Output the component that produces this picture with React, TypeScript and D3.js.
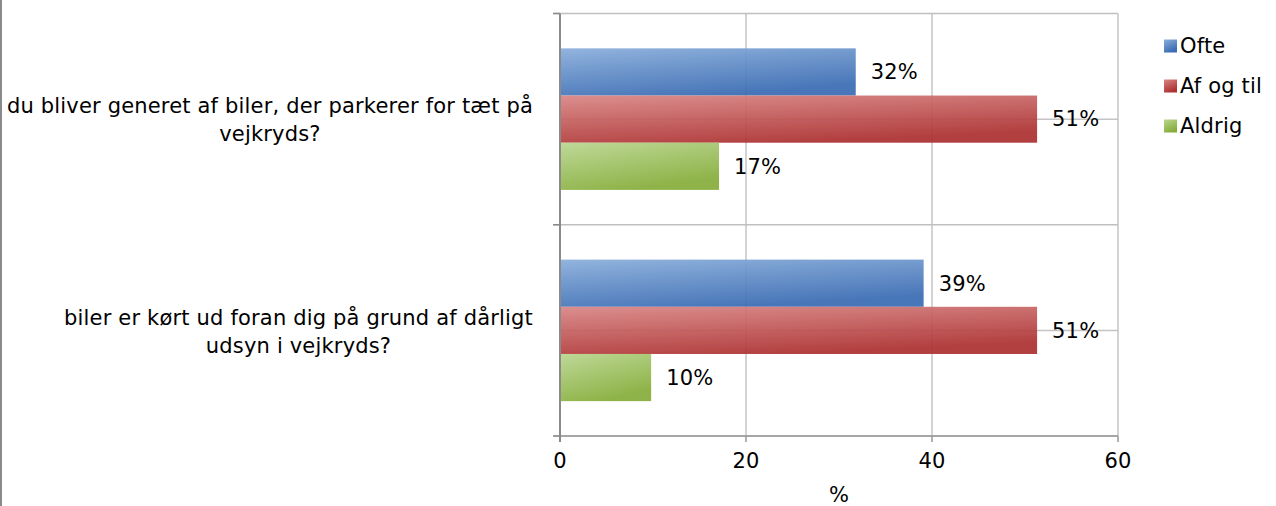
import { scaleBand, scaleLinear } from "d3";

const categories = [
  ["du bliver generet af biler, der parkerer for tæt på", "vejkryds?"],
  ["biler er kørt ud foran dig på grund af dårligt", "udsyn i vejkryds?"],
];
const seriesNames = ["Ofte", "Af og til", "Aldrig"];
const ofte = [31.8, 39.1];
const afOgTil = [51.3, 51.3];
const aldrig = [17.1, 9.8];
const xTicks = [0, 20, 40, 60];

const seriesValues = [ofte, afOgTil, aldrig];
const gradients = [
  ["#8aaedb", "#3a6cb3"],
  ["#d98686", "#ad3131"],
  ["#bad690", "#86ad3a"],
];

const FONT = "'DejaVu Sans', Verdana, sans-serif";
const FS = 21;
const LS = 0.18;
const W = 1276;
const H = 506;
const margin = { top: 13.5, left: 560, right: 158, bottom: 70 };

function textWidth(s: string) {
  const c = document.createElement("canvas").getContext("2d");
  if (!c) return s.length * 11;
  c.font = `${FS}px ${FONT}`;
  return c.measureText(s).width + s.length * LS;
}

export default function App() {
  const innerW = W - margin.left - margin.right;
  const innerH = H - margin.top - margin.bottom;
  const x = scaleLinear().domain([0, 60]).range([0, innerW]);
  const y = scaleBand<number>()
    .domain(categories.map((_, i) => i))
    .range([0, innerH])
    .paddingInner(0.33)
    .paddingOuter(0.165);
  const ySub = scaleBand<number>()
    .domain(seriesNames.map((_, i) => i))
    .range([0, y.bandwidth()]);
  const step = y.step();
  const labelRight = 533;

  return (
    <svg
      width={W}
      height={H}
      style={{ position: "absolute", left: 0, top: 0, background: "#fff" }}
      fontFamily={FONT}
      fontSize={FS}
      letterSpacing={LS}
    >
      <defs>
        {gradients.map(([a, b], i) => (
          <linearGradient key={i} id={`g${i}`} x1="0" y1="0" x2="0.45" y2="1">
            <stop offset="0" stopColor={a} />
            <stop offset="1" stopColor={b} />
          </linearGradient>
        ))}
      </defs>
      <line x1={1} x2={1} y1={0} y2={H} stroke="#8a8a8a" strokeWidth={2} />

      {/* category labels */}
      {categories.map((lines, i) => {
        const cy = (y(i) ?? 0) + y.bandwidth() / 2 + margin.top + 1;
        const maxW = Math.max(...lines.map(textWidth));
        const cx = labelRight - maxW / 2;
        return (
          <text key={i} fill="#000" textAnchor="middle">
            {lines.map((l, j) => (
              <tspan key={j} x={cx} y={cy + (j - (lines.length - 1) / 2) * 28} dy="0.35em">
                {l}
              </tspan>
            ))}
          </text>
        );
      })}

      <g transform={`translate(${margin.left},${margin.top})`}>
        {/* grid */}
        {xTicks.slice(1).map((t) => (
          <line key={t} x1={x(t)} x2={x(t)} y1={0} y2={innerH} stroke="#c4c4c4" strokeWidth={1.5} />
        ))}
        {categories.map((_, i) => (
          <line
            key={`c${i}`}
            x1={0}
            x2={innerW}
            y1={(y(i) ?? 0) + y.bandwidth() / 2}
            y2={(y(i) ?? 0) + y.bandwidth() / 2}
            stroke="#c4c4c4"
            strokeWidth={1.5}
          />
        ))}
        {[0, 1, 2].map((k) => (
          <line key={`b${k}`} x1={-6} x2={innerW} y1={k * step} y2={k * step} stroke="#c0c0c0" strokeWidth={1.5} />
        ))}

        {/* bars */}
        {categories.map((_, i) =>
          seriesValues.map((vals, s) => (
            <rect
              key={`${i}-${s}`}
              x={x(0)}
              y={(y(i) ?? 0) + (ySub(s) ?? 0)}
              width={x(vals[i]) - x(0)}
              height={ySub.bandwidth()}
              fill={`url(#g${s})`}
              fillOpacity={0.93}
            />
          ))
        )}
        {categories.map((_, i) =>
          seriesValues.map((vals, s) => (
            <text
              key={`l${i}-${s}`}
              x={x(vals[i]) + 15}
              y={(y(i) ?? 0) + (ySub(s) ?? 0) + ySub.bandwidth() / 2}
              dy="0.35em"
              fill="#000"
            >
              {`${Math.round(vals[i])}%`}
            </text>
          ))
        )}

        {/* axes */}
        <line x1={0} x2={innerW} y1={innerH} y2={innerH} stroke="#999" strokeWidth={1.5} />
        {xTicks.map((t) => (
          <g key={t} transform={`translate(${x(t)},${innerH})`}>
            <line y1={0} y2={6} stroke="#999" strokeWidth={1.5} />
            <text y={32} textAnchor="middle" fill="#000">
              {t}
            </text>
          </g>
        ))}
        {[0, 1, 2].map((k) => (
          <line key={`t${k}`} x1={-7} x2={0} y1={k * step} y2={k * step} stroke="#8a8a8a" strokeWidth={1.5} />
        ))}
        <line x1={0} x2={0} y1={0} y2={innerH + 6} stroke="#8a8a8a" strokeWidth={2} />
        <text x={innerW / 2} y={innerH + 66} textAnchor="middle" fill="#000">
          %
        </text>
      </g>

      {/* legend */}
      {seriesNames.map((n, i) => (
        <g key={n} transform={`translate(1164,${46 + i * 40})`}>
          <rect x={0} y={-6.5} width={13} height={13} fill={`url(#g${i})`} />
          <text x={16} dy="0.35em" fill="#000">
            {n}
          </text>
        </g>
      ))}
    </svg>
  );
}
